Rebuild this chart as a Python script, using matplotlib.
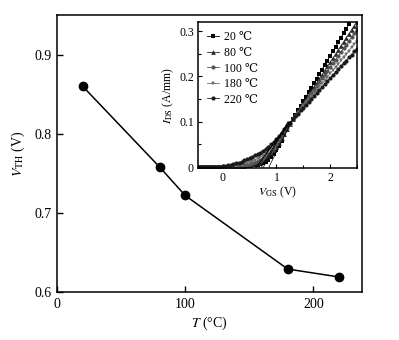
import numpy as np
import matplotlib
matplotlib.use("Agg")
import matplotlib.pyplot as plt
from matplotlib.ticker import MultipleLocator

plt.rcParams['font.family'] = ['Liberation Serif', 'DejaVu Serif']
plt.rcParams['mathtext.fontset'] = 'stix'

# ---- main data ----
temps = [20, 80, 100, 180, 220]
vth = [0.86, 0.758, 0.722, 0.629, 0.619]

# ---- inset data (transfer curves, VGS step 0.05 V from -0.5 to 2.5) ----
vgs_start, vgs_step, n_pts = -0.5, 0.05, 61
labels = ['20 \u2103', '80 \u2103', '100 \u2103', '180 \u2103', '220 \u2103']
ids_20 = [0]*15 + [0.001, 0.001, 0.002, 0.002, 0.003, 0.003, 0.004, 0.004, 0.005, 0.006,
                   0.008, 0.011, 0.016, 0.022, 0.029, 0.037, 0.047, 0.058, 0.070, 0.082,
                   0.094, 0.105, 0.115, 0.125, 0.135, 0.145, 0.155, 0.165, 0.175, 0.185,
                   0.195, 0.205, 0.215, 0.225, 0.235, 0.245, 0.255, 0.265, 0.275, 0.285,
                   0.295, 0.305, 0.315, 0.325, 0.335, 0.345]
ids_80 = [0]*13 + [0.001, 0.001, 0.001, 0.002, 0.002, 0.003, 0.004, 0.005, 0.006, 0.008,
                   0.010, 0.012, 0.015, 0.019, 0.024, 0.030, 0.037, 0.045, 0.054, 0.064,
                   0.074, 0.085, 0.095, 0.105, 0.114, 0.123, 0.132, 0.141, 0.150, 0.159,
                   0.168, 0.177, 0.186, 0.195, 0.204, 0.213, 0.222, 0.231, 0.240, 0.249,
                   0.258, 0.267, 0.276, 0.285, 0.294, 0.303, 0.312, 0.321]
ids_100 = [0]*11 + [0.001, 0.001, 0.001, 0.001, 0.002, 0.002, 0.003, 0.004, 0.005, 0.007,
                    0.009, 0.011, 0.013, 0.016, 0.020, 0.024, 0.029, 0.035, 0.042, 0.050,
                    0.059, 0.068, 0.077, 0.087, 0.096, 0.105, 0.113, 0.122, 0.130, 0.138,
                    0.146, 0.155, 0.163, 0.171, 0.179, 0.188, 0.196, 0.204, 0.212, 0.221,
                    0.229, 0.237, 0.245, 0.254, 0.262, 0.270, 0.278, 0.287, 0.295, 0.303]
ids_180 = [0]*9 + [0.001, 0.001, 0.001, 0.001, 0.002, 0.002, 0.003, 0.004, 0.005, 0.007,
                   0.009, 0.011, 0.013, 0.016, 0.019, 0.022, 0.026, 0.030, 0.036, 0.042,
                   0.049, 0.056, 0.064, 0.072, 0.080, 0.089, 0.097, 0.105, 0.112, 0.120,
                   0.127, 0.134, 0.141, 0.149, 0.156, 0.163, 0.170, 0.178, 0.185, 0.192,
                   0.199, 0.207, 0.214, 0.221, 0.228, 0.236, 0.243, 0.250, 0.257, 0.265,
                   0.272, 0.279]
ids_220 = [0]*7 + [0.001, 0.001, 0.001, 0.002, 0.003, 0.004, 0.005, 0.007, 0.008, 0.010,
                   0.012, 0.015, 0.017, 0.020, 0.023, 0.026, 0.029, 0.032, 0.036, 0.040,
                   0.045, 0.050, 0.056, 0.062, 0.069, 0.076, 0.083, 0.090, 0.098, 0.105,
                   0.112, 0.118, 0.125, 0.131, 0.138, 0.144, 0.151, 0.157, 0.164, 0.170,
                   0.177, 0.183, 0.190, 0.196, 0.203, 0.209, 0.216, 0.222, 0.229, 0.235,
                   0.242, 0.248, 0.255, 0.261]
# peak transconductance used for the linear extrapolation lines (A/mm per V)
gm_max = [0.24, 0.22, 0.20, 0.165, 0.155]

curves = [ids_20, ids_80, ids_100, ids_180, ids_220]
for c in curves:
    assert len(c) == n_pts, len(c)
vgs = vgs_start + vgs_step * np.arange(n_pts)

fig = plt.figure(figsize=(3.99, 3.40), dpi=100)
ax = fig.add_axes([57/399, 1 - 292/340, (362 - 57)/399, (292 - 15)/340])
ax.plot(temps, vth, '-o', color='black', lw=1.1, ms=6)
ax.set_xlim(0, 238)
ax.set_ylim(0.6, 0.95)
ax.set_xticks([0, 100, 200])
ax.set_yticks([0.6, 0.7, 0.8, 0.9])
ax.set_yticklabels(['0.6', '0.7', '0.8', '0.9'])
ax.tick_params(direction='in', labelsize=10, length=4, width=1, pad=4)
for s in ax.spines.values():
    s.set_linewidth(1.1)
ax.set_xlabel('$T$ (\u00b0C)', fontsize=10, labelpad=3)
ax.set_ylabel(r'$V_{\rm TH}$ (V)', fontsize=10, labelpad=5)

# ---- inset ----
ins = fig.add_axes([198/399, 1 - 168/340, (357 - 198)/399, (168 - 22)/340])
markers = ['s', '^', 'o', '*', 'o']
colors = ['#000000', '#2a2a2a', '#555555', '#707070', '#1a1a1a']
msizes = [3.0, 3.4, 3.0, 3.6, 3.0]
for c, m, col, lab, msz in zip(curves, markers, colors, labels, msizes):
    ins.plot(vgs, c, '-', marker=m, color=col, ms=msz, lw=0.6, mew=0, label=lab)
for v0, g in zip(vth, gm_max):
    ins.plot([v0, v0 + 0.1 / g], [0, 0.1], color='black', lw=0.5, zorder=5)
ins.set_xlim(-0.46, 2.5)
ins.set_ylim(-0.002, 0.32)
ins.set_xticks([0, 1, 2])
ins.set_yticks([0, 0.1, 0.2, 0.3])
ins.set_yticklabels(['0', '0.1', '0.2', '0.3'])
ins.xaxis.set_minor_locator(MultipleLocator(0.5))
ins.yaxis.set_minor_locator(MultipleLocator(0.05))
ins.tick_params(which='both', direction='in', labelsize=8.5, width=0.8, pad=3)
ins.tick_params(which='major', length=3)
ins.tick_params(which='minor', length=2)
for s in ins.spines.values():
    s.set_linewidth(1.1)
ins.set_xlabel(r'$V_{\rm GS}$ (V)', fontsize=8.5, labelpad=0)
ins.set_ylabel(r'$I_{\rm DS}$ (A/mm)', fontsize=8.5, labelpad=2)
leg = ins.legend(loc='upper left', fontsize=8.5, frameon=False, handlelength=1.0,
                 handletextpad=0.4, labelspacing=0.3, borderaxespad=0.4,
                 markerscale=1.0)

fig.savefig('out.png', dpi=100)
